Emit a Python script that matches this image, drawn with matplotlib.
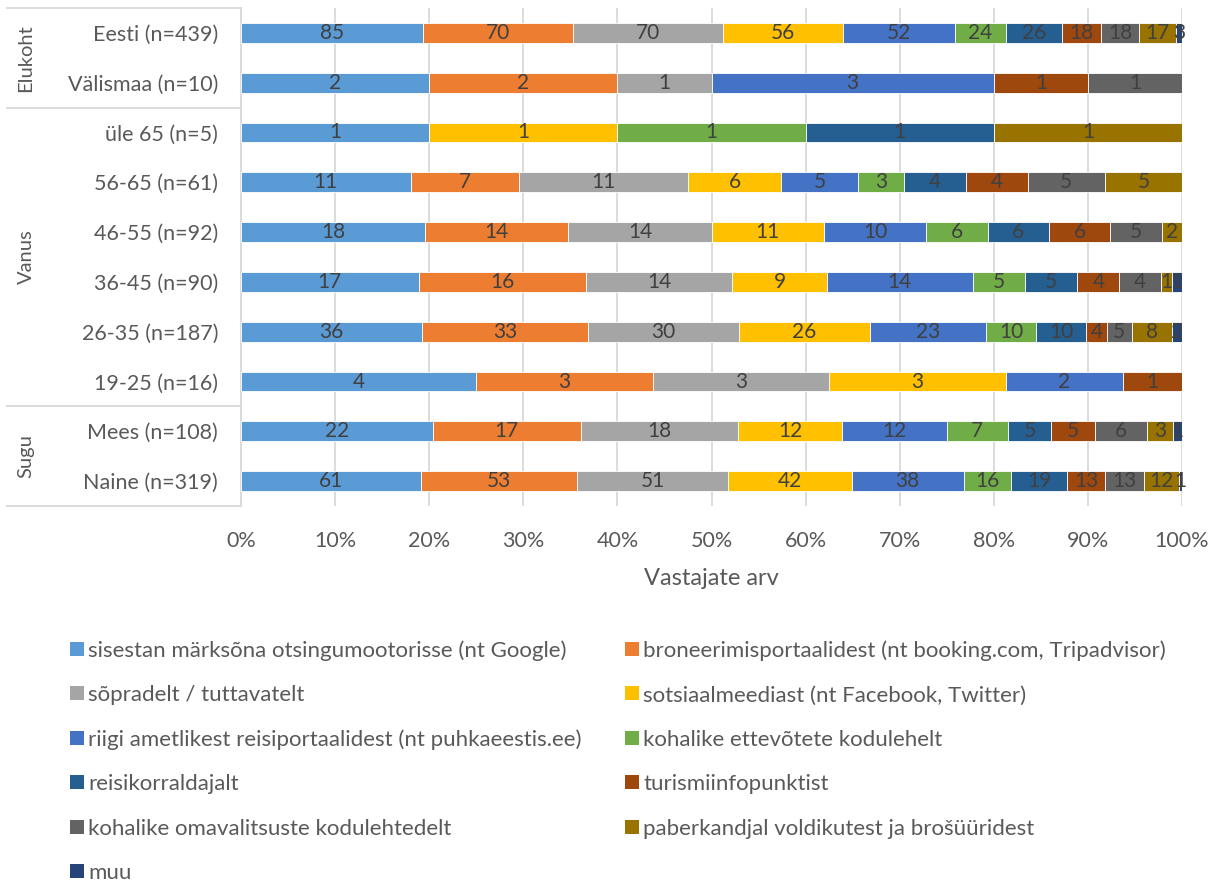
import matplotlib
matplotlib.use("Agg")
import matplotlib.pyplot as plt
import numpy as np
from matplotlib.patches import Rectangle
from matplotlib.lines import Line2D

plt.rcParams['font.family'] = ['Lato', 'DejaVu Sans']

categories = ["Eesti (n=439)", "Välismaa (n=10)", "üle 65 (n=5)", "56-65 (n=61)",
              "46-55 (n=92)", "36-45 (n=90)", "26-35 (n=187)", "19-25 (n=16)",
              "Mees (n=108)", "Naine (n=319)"]

series_names = [
    "sisestan märksõna otsingumootorisse (nt Google)",
    "broneerimisportaalidest (nt booking.com, Tripadvisor)",
    "sõpradelt / tuttavatelt",
    "sotsiaalmeediast (nt Facebook, Twitter)",
    "riigi ametlikest reisiportaalidest (nt puhkaeestis.ee)",
    "kohalike ettevõtete kodulehelt",
    "reisikorraldajalt",
    "turismiinfopunktist",
    "kohalike omavalitsuste kodulehtedelt",
    "paberkandjal voldikutest ja brošüüridest",
    "muu",
]

# values per category (same order as categories) for each series
google       = [85, 2, 1, 11, 18, 17, 36, 4, 22, 61]
broneerimis  = [70, 2, 0, 7, 14, 16, 33, 3, 17, 53]
sopradelt    = [70, 1, 0, 11, 14, 14, 30, 3, 18, 51]
sotsiaal     = [56, 0, 1, 6, 11, 9, 26, 3, 12, 42]
riigi        = [52, 3, 0, 5, 10, 14, 23, 2, 12, 38]
ettevotted   = [24, 0, 1, 3, 6, 5, 10, 0, 7, 16]
reisikorr    = [26, 0, 1, 4, 6, 5, 10, 0, 5, 19]
turismiinfo  = [18, 1, 0, 4, 6, 4, 4, 1, 5, 13]
omavalitsus  = [18, 1, 0, 5, 5, 4, 5, 0, 6, 13]
paber        = [17, 0, 1, 5, 2, 1, 8, 0, 3, 12]
muu          = [3, 0, 0, 0, 0, 1, 2, 0, 1, 1]

groups = ["Elukoht", "Vanus", "Sugu"]
group_sizes = [2, 6, 2]

colors = ["#5B9BD5", "#ED7D31", "#A5A5A5", "#FFC000", "#4472C4", "#70AD47",
          "#255E91", "#9E480E", "#636363", "#997300", "#264478"]

data = np.array([google, broneerimis, sopradelt, sotsiaal, riigi, ettevotted,
                 reisikorr, turismiinfo, omavalitsus, paber, muu], dtype=float)
totals = data.sum(axis=0)
pct = data / totals

W, H = 1216, 881
AX_L, AX_R, AX_T, AX_B = 241, 1182, 8, 506
fig = plt.figure(figsize=(W / 100, H / 100), dpi=100)
ax = fig.add_axes([AX_L / W, 1 - AX_B / H, (AX_R - AX_L) / W, (AX_B - AX_T) / H])

grey = "#595959"
txtc = "#404040"
n = len(categories)
y = np.arange(n)[::-1]
left = np.zeros(n)
for i in range(len(series_names)):
    bars = ax.barh(y, pct[i], left=left, height=0.4, color=colors[i],
                   edgecolor="white", linewidth=0.6, label=series_names[i], zorder=3)
    labels = [f"{int(v)}" if v > 0 else "" for v in data[i]]
    ax.bar_label(bars, labels=labels, label_type="center", color=txtc,
                 fontsize=15, zorder=4)
    left += pct[i]

ax.set_xlim(0, 1)
ax.set_ylim(-0.5, n - 0.5)
ticks = np.linspace(0, 1, 11)
ax.set_xticks(ticks)
ax.set_xticklabels([f"{int(round(t * 100))}%" for t in ticks])
ax.set_yticks(y)
ax.set_yticklabels(categories)
ax.tick_params(axis="both", length=0, labelsize=15.5, labelcolor=grey)
ax.tick_params(axis="x", pad=18)
ax.tick_params(axis="y", pad=16.5)
ax.grid(axis="x", color="#D9D9D9", linewidth=1.3, zorder=0)
for s in ["top", "right", "bottom"]:
    ax.spines[s].set_visible(False)
ax.spines["left"].set_color("#D9D9D9")
ax.spines["left"].set_linewidth(1.3)
ax.set_xlabel("Vastajate arv", fontsize=17, color=grey, labelpad=12)

# group brackets
x0 = (7 - AX_L) / (AX_R - AX_L)
trans = ax.get_yaxis_transform()
bounds = [n - 0.5]
pos = n - 0.5
for gsz in group_sizes:
    pos -= gsz
    bounds.append(pos)
for b in bounds:
    ax.add_line(Line2D([x0, 0], [b, b], transform=trans, color="#D9D9D9",
                       linewidth=1.3, clip_on=False))
xg = (26 - AX_L) / (AX_R - AX_L)
for gi, g in enumerate(groups):
    mid = (bounds[gi] + bounds[gi + 1]) / 2
    ax.text(xg, mid, g, transform=trans, rotation=90, ha="center", va="center",
            fontsize=14.5, color=grey)

# legend laid out row-wise in two columns
sq = 14
col_sq_x = [70, 625]
col_txt_x = [88, 643]
row0, row_step = 649, 44.4
for i, name in enumerate(series_names):
    r, c = divmod(i, 2)
    yc = row0 + r * row_step
    fig.add_artist(Rectangle((col_sq_x[c] / W, 1 - (yc + sq / 2) / H), sq / W, sq / H,
                             transform=fig.transFigure, facecolor=colors[i],
                             edgecolor="none"))
    fig.text(col_txt_x[c] / W, 1 - yc / H, name, ha="left", va="center_baseline",
             fontsize=16, color=grey)

fig.savefig("out.png", dpi=100)
